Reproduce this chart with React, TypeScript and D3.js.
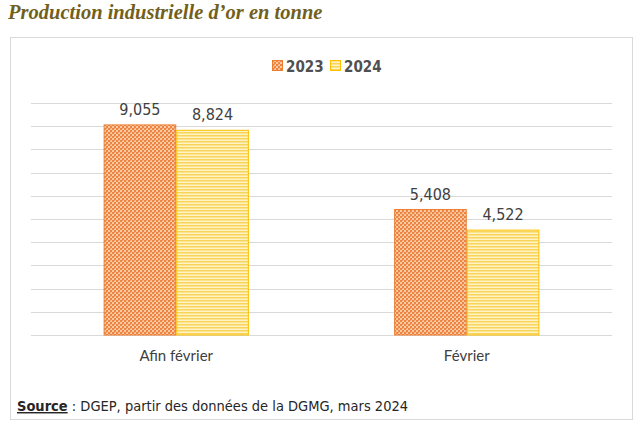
import { useEffect, useRef } from 'react'
import * as d3 from 'd3'

const categories = ['Afin février', 'Février']
const series = ['2023', '2024']
const values2023 = [9.055, 5.408]
const values2024 = [8.824, 4.522]
const valueLabels2023 = ['9,055', '5,408']
const valueLabels2024 = ['8,824', '4,522']
const yTicks = [0, 1, 2, 3, 4, 5, 6, 7, 8, 9, 10]

const W = 640
const H = 425
const condensed = '"Liberation Sans Narrow", "DejaVu Sans Condensed", "Roboto", sans-serif'

export default function App() {
  const svgRef = useRef<SVGSVGElement>(null)

  useEffect(() => {
    if (!svgRef.current) return
    const svg = d3.select(svgRef.current)
    svg.selectAll('*').remove()

    const defs = svg.append('defs')
    // orange dotted pattern (2023)
    const p1 = defs.append('pattern').attr('id', 'pat2023')
      .attr('patternUnits', 'userSpaceOnUse').attr('width', 4).attr('height', 4)
    p1.append('rect').attr('width', 4).attr('height', 4).attr('fill', '#f9c9a2')
    p1.append('rect').attr('x', 0).attr('y', 0).attr('width', 2).attr('height', 2).attr('fill', '#ec8443')
    p1.append('rect').attr('x', 2).attr('y', 2).attr('width', 2).attr('height', 2).attr('fill', '#ec8443')
    p1.append('rect').attr('x', 2).attr('y', 0).attr('width', 1).attr('height', 1).attr('fill', '#f0a068')
    // yellow stripes (2024)
    const p2 = defs.append('pattern').attr('id', 'pat2024')
      .attr('patternUnits', 'userSpaceOnUse').attr('width', 4).attr('height', 3)
    p2.append('rect').attr('width', 4).attr('height', 3).attr('fill', '#fff3c4')
    p2.append('rect').attr('y', 0).attr('width', 4).attr('height', 1.5).attr('fill', '#f9d45a')

    // title
    svg.append('text')
      .attr('x', 8).attr('y', 19)
      .attr('font-family', '"Liberation Serif", "DejaVu Serif", serif')
      .attr('font-style', 'italic').attr('font-weight', 'bold')
      .attr('font-size', 20.5).attr('fill', '#735f1c')
      .text('Production industrielle d\u2019or en tonne')

    // frame
    svg.append('rect')
      .attr('x', 10.5).attr('y', 37.5).attr('width', 622).attr('height', 382)
      .attr('fill', '#fff').attr('stroke', '#d9d9d9')

    const x = d3.scaleBand<string>().domain(categories).range([31, 612])
      .paddingInner(0.5).paddingOuter(0.25)
    const xs = d3.scaleBand<string>().domain(series).range([0, x.bandwidth()])
    const y = d3.scaleLinear().domain([0, 10]).range([335, 103])

    // gridlines
    svg.append('g').selectAll('line').data(yTicks).join('line')
      .attr('x1', 31).attr('x2', 612)
      .attr('y1', (d) => Math.round(y(d)) + 0.5).attr('y2', (d) => Math.round(y(d)) + 0.5)
      .attr('stroke', '#d9d9d9').attr('stroke-width', 1.2)

    const data = series.map((s, si) => ({
      s,
      vals: si === 0 ? values2023 : values2024,
      labels: si === 0 ? valueLabels2023 : valueLabels2024,
      fill: si === 0 ? 'url(#pat2023)' : 'url(#pat2024)',
      stroke: si === 0 ? '#ed7d31' : '#ffc000',
    }))

    data.forEach((ser) => {
      const g = svg.append('g')
      g.selectAll('rect').data(categories).join('rect')
        .attr('x', (c) => x(c)! + xs(ser.s)! + 0.5)
        .attr('y', (c, i) => y(ser.vals[i]))
        .attr('width', xs.bandwidth() - 1)
        .attr('height', (c, i) => y(0) - y(ser.vals[i]))
        .attr('fill', ser.fill).attr('stroke', ser.stroke).attr('stroke-width', 1)
      g.selectAll('text').data(categories).join('text')
        .attr('x', (c) => x(c)! + xs(ser.s)! + xs.bandwidth() / 2)
        .attr('y', (c, i) => y(ser.vals[i]) - 10)
        .attr('text-anchor', 'middle')
        .attr('font-family', condensed).attr('font-size', 16).attr('fill', '#404040')
        .text((c, i) => ser.labels[i])
    })

    // category labels
    svg.append('g').selectAll('text').data(categories).join('text')
      .attr('x', (c) => x(c)! + x.bandwidth() / 2)
      .attr('y', 361)
      .attr('text-anchor', 'middle')
      .attr('font-family', 'Lato, "Open Sans", sans-serif').attr('font-size', 15).attr('fill', '#404040')
      .text((c) => c)

    // legend
    const legendX = [272, 330]
    series.forEach((s, i) => {
      svg.append('rect')
        .attr('x', legendX[i] + 0.5).attr('y', 60.5).attr('width', 10).attr('height', 10)
        .attr('fill', data[i].fill).attr('stroke', data[i].stroke)
      svg.append('text')
        .attr('x', legendX[i] + 14).attr('y', 72)
        .attr('font-family', condensed).attr('font-weight', 'bold')
        .attr('font-size', 15).attr('fill', '#505050')
        .text(s)
    })

    // source
    const src = svg.append('text')
      .attr('x', 17).attr('y', 411)
      .attr('font-family', condensed).attr('font-size', 14.5).attr('fill', '#262626')
    src.append('tspan').attr('font-weight', 'bold').attr('text-decoration', 'underline').text('Source')
    src.append('tspan').text(' : DGEP,  partir des données de la DGMG, mars 2024')
  }, [])

  return (
    <svg ref={svgRef} width={W} height={H}
      style={{ position: 'absolute', left: 0, top: 0, background: '#fff' }} />
  )
}
